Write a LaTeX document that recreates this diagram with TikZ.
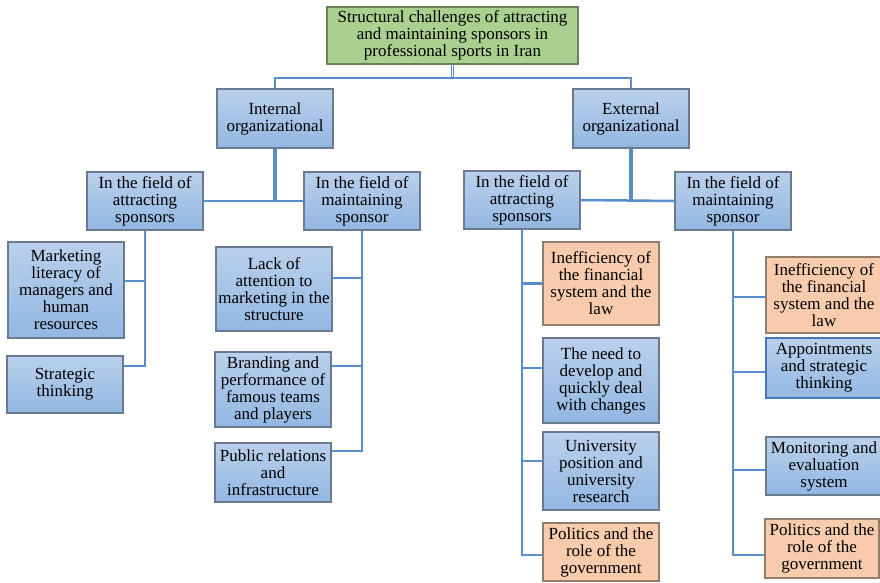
\documentclass[tikz,border=0pt]{standalone}
\usepackage{fontspec}
\setmainfont{Liberation Serif}
\definecolor{bluetop}{RGB}{186,208,236}
\definecolor{bluebot}{RGB}{146,183,226}
\definecolor{boxline}{RGB}{105,122,145}
\definecolor{orangefill}{RGB}{247,203,172}
\definecolor{orangeline}{RGB}{145,125,110}
\definecolor{greenfill}{RGB}{169,208,142}
\definecolor{greenline}{RGB}{105,130,90}
\definecolor{connc}{RGB}{88,142,204}
\definecolor{strongline}{RGB}{70,120,185}
\begin{document}
\begin{tikzpicture}[x=1pt,y=-1pt,
  box/.style={draw=boxline, line width=1.3pt, top color=bluetop, bottom color=bluebot,
    minimum width=116pt, inner sep=0.5pt, align=center,
    font=\fontsize{17}{17}\selectfont, text=black},
  obox/.style={box, top color=orangefill, bottom color=orangefill, draw=orangeline},
  gbox/.style={box, top color=greenfill, bottom color=greenfill, draw=greenline},
  conn/.style={draw=connc, line width=2.5pt},
  thickconn/.style={draw=connc, line width=3.2pt}]
\useasboundingbox (0,0) rectangle (880,582);
\clip (0,0) rectangle (880,582);
\fill[white] (0,0) rectangle (880,582);

% root and level 1
\node[gbox, minimum width=251pt, minimum height=57pt] (root) at (452.5,35.5)
  {Structural challenges of attracting\\and maintaining sponsors in\\professional sports in Iran};
\node[box, minimum height=59pt] (int) at (275,118.5) {Internal\\organizational};
\node[box, minimum height=59pt] (ext) at (631,118.5) {External\\organizational};

% level 2
\node[box, minimum height=58pt] (ia) at (145,201) {In the field of\\attracting\\sponsors};
\node[box, minimum height=58pt] (im) at (362,201) {In the field of\\maintaining\\sponsor};
\node[box, minimum height=58pt] (ea) at (522,200) {In the field of\\attracting\\sponsors};
\node[box, minimum height=58pt] (em) at (733,201) {In the field of\\maintaining\\sponsor};

% leaves: internal / attracting
\node[box, minimum height=96pt] (l1) at (66,290) {Marketing\\literacy of\\managers and\\human\\resources};
\node[box, minimum height=57pt] (l2) at (65,384.5) {Strategic\\thinking};
% leaves: internal / maintaining
\node[box, minimum height=84pt] (l3) at (274,289) {Lack of\\attention to\\marketing in the\\structure};
\node[box, minimum height=75pt] (l4) at (273,389.5) {Branding and\\performance of\\famous teams\\and players};
\node[box, minimum height=59pt] (l5) at (273,472.5) {Public relations\\and\\infrastructure};
% leaves: external / attracting
\node[obox, minimum height=83pt] (r1) at (601,283.5) {Inefficiency of\\the financial\\system and the\\law};
\node[box, minimum height=85pt] (r2) at (601,380.5) {The need to\\develop and\\quickly deal\\with changes};
\node[box, minimum height=78pt] (r3) at (601,471) {University\\position and\\university\\research};
\node[obox, minimum height=58pt] (r4) at (601,552) {Politics and the\\role of the\\government};
% leaves: external / maintaining
\node[obox, minimum height=76pt] (s1) at (824,295) {Inefficiency of\\the financial\\system and the\\law};
\node[box, draw=strongline, line width=2pt, minimum height=60pt] (s2) at (824,368) {Appointments\\and strategic\\thinking};
\node[box, minimum height=58pt] (s3) at (824,466) {Monitoring and\\evaluation\\system};
\node[obox, minimum width=114pt, minimum height=59pt] (s4) at (822,548.5) {Politics and the\\role of the\\government};

% connectors: root
\coordinate (bar) at (0,78);
\draw[draw=connc, line width=0.9pt, double=white, double distance=1.2pt] (root.south) -- (root.south |- bar);
\draw[conn, line width=2.3pt] (int.north) |- (ext.north |- bar) -- (ext.north);

% internal
\draw[thickconn] (int.south) -- (int.south |- ia.east);
\draw[conn] (ia.east) -- (im.west);
% external
\draw[thickconn] (ext.south) -- (ext.south |- em.west);
\draw[conn] (ea.east) -- (em.west);

% internal attracting column
\coordinate (l1c) at ([yshift=9pt]l1.east);
\coordinate (l2c) at ([yshift=18.5pt]l2.east);
\draw[conn] (ia.south) |- (l2c);
\draw[conn] (ia.south |- l1c) -- (l1c);

% internal maintaining column
\coordinate (l3c) at ([yshift=11pt]l3.east);
\coordinate (l4c) at ([yshift=23.5pt]l4.east);
\coordinate (l5c) at ([yshift=21.5pt]l5.east);
\draw[conn] (im.south) |- (l5c);
\draw[conn] (im.south |- l3c) -- (l3c);
\draw[conn] (im.south |- l4c) -- (l4c);

% external attracting column
\coordinate (r1c) at (r1.west);
\coordinate (r2c) at ([yshift=12.5pt]r2.west);
\coordinate (r3c) at ([yshift=10pt]r3.west);
\coordinate (r4c) at ([yshift=-3pt]r4.west);
\draw[conn] (ea.south) |- (r4c);
\draw[conn] (ea.south |- r1c) -- (r1c);
\draw[conn] (ea.south |- r2c) -- (r2c);
\draw[conn] (ea.south |- r3c) -- (r3c);

% external maintaining column
\coordinate (s1c) at ([yshift=-2pt]s1.west);
\coordinate (s2c) at ([yshift=-4pt]s2.west);
\coordinate (s3c) at ([yshift=-4pt]s3.west);
\coordinate (s4c) at ([yshift=-6.5pt]s4.west);
\draw[conn] (em.south) |- (s4c);
\draw[conn] (em.south |- s1c) -- (s1c);
\draw[conn] (em.south |- s2c) -- (s2c);
\draw[conn] (em.south |- s3c) -- (s3c);
\end{tikzpicture}
\end{document}
